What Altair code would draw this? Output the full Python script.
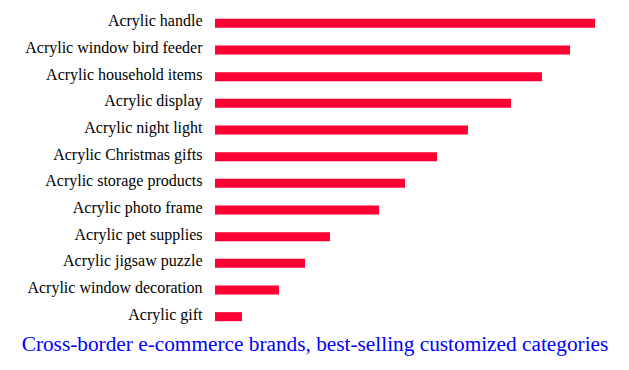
import altair as alt
import pandas as pd

categories = [
    "Acrylic handle",
    "Acrylic window bird feeder",
    "Acrylic household items",
    "Acrylic display",
    "Acrylic night light",
    "Acrylic Christmas gifts",
    "Acrylic storage products",
    "Acrylic photo frame",
    "Acrylic pet supplies",
    "Acrylic jigsaw puzzle",
    "Acrylic window decoration",
    "Acrylic gift",
]
values = [380, 355, 327, 296, 253, 222, 190, 164, 115, 90, 64, 27]

df = pd.DataFrame({"category": categories, "value": values})

SERIF = "'Times New Roman', 'Liberation Serif', Times, serif"

chart = (
    alt.Chart(df)
    .mark_bar(color="#ff0033", size=9)
    .encode(
        y=alt.Y(
            "category:N",
            sort=categories,
            title=None,
            scale=alt.Scale(paddingInner=0.66, paddingOuter=0.33),
            axis=alt.Axis(
                domain=False,
                ticks=False,
                grid=False,
                labelFont=SERIF,
                labelFontSize=16,
                labelColor="black",
                labelPadding=13,
                labelOffset=-2,
                labelLimit=400,
            ),
        ),
        x=alt.X(
            "value:Q",
            title=None,
            scale=alt.Scale(domain=[0, 380], nice=False, zero=True),
            axis=None,
        ),
    )
    .properties(
        width=380,
        height=320,
        autosize=alt.AutoSizeParams(type="none"),
        padding={"left": 207, "top": 2, "right": 26, "bottom": 32},
        title=alt.TitleParams(
            "Cross-border e-commerce brands, best-selling customized categories",
            orient="bottom",
            anchor="middle",
            frame="group",
            dx=-90,
            offset=4,
            font=SERIF,
            fontSize=21.3,
            fontWeight="normal",
            color="blue",
        ),
    )
    .configure_view(stroke=None)
)

chart.save("out.html", embed_options={"renderer": "svg", "actions": False})
